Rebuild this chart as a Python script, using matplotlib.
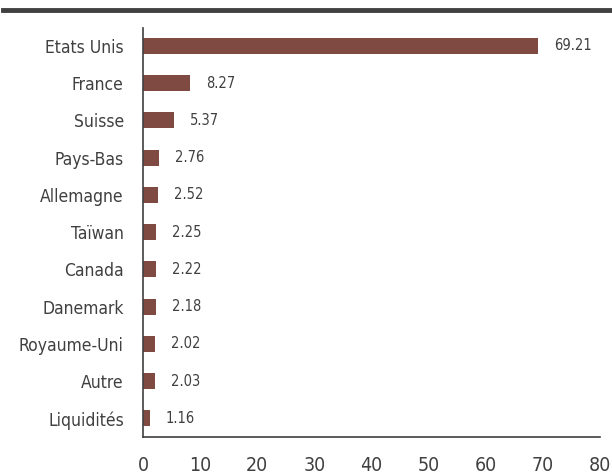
import matplotlib.pyplot as plt
from matplotlib.lines import Line2D

# Répartition géographique (%)
pays = ['Etats Unis', 'France', 'Suisse', 'Pays-Bas', 'Allemagne', 'Taïwan',
        'Canada', 'Danemark', 'Royaume-Uni', 'Autre', 'Liquidités']
poids = [69.21, 8.27, 5.37, 2.76, 2.52, 2.25, 2.22, 2.18, 2.02, 2.03, 1.16]
xticks = [0, 10, 20, 30, 40, 50, 60, 70, 80]

plt.rcParams['font.family'] = ['DejaVu Sans']
plt.rcParams['font.stretch'] = 'condensed'

text_color = '#404040'
bar_color = '#7E4A41'

fig = plt.figure(figsize=(6.12, 4.75), dpi=100)
ax = fig.add_axes([0.234, 0.08, 0.746, 0.861])

ax.barh(range(len(pays)), poids, height=0.43, color=bar_color)
for i, v in enumerate(poids):
    ax.text(v + 2.8, i, f'{v:.2f}', va='center', ha='left', fontsize=10.5,
            color=text_color, fontstretch='condensed')

ax.set_yticks(range(len(pays)))
ax.set_yticklabels(pays, fontsize=12.5, color=text_color, fontstretch='condensed')
ax.set_ylim(10.5, -0.48)
ax.set_xlim(0, 80)
ax.set_xticks(xticks)
ax.set_xticklabels([str(t) for t in xticks], fontsize=14, color=text_color,
                   fontstretch='condensed')
ax.tick_params(axis='y', length=0, pad=14)
ax.tick_params(axis='x', length=0, pad=14)

for s in ['top', 'right']:
    ax.spines[s].set_visible(False)
for s in ['left', 'bottom']:
    ax.spines[s].set_color(text_color)
    ax.spines[s].set_linewidth(1.2)

# Trait horizontal en haut
fig.add_artist(Line2D([0.005, 1.0], [0.979, 0.979], transform=fig.transFigure,
                      color='#404040', linewidth=3.5))

fig.savefig('out.png', dpi=100)
